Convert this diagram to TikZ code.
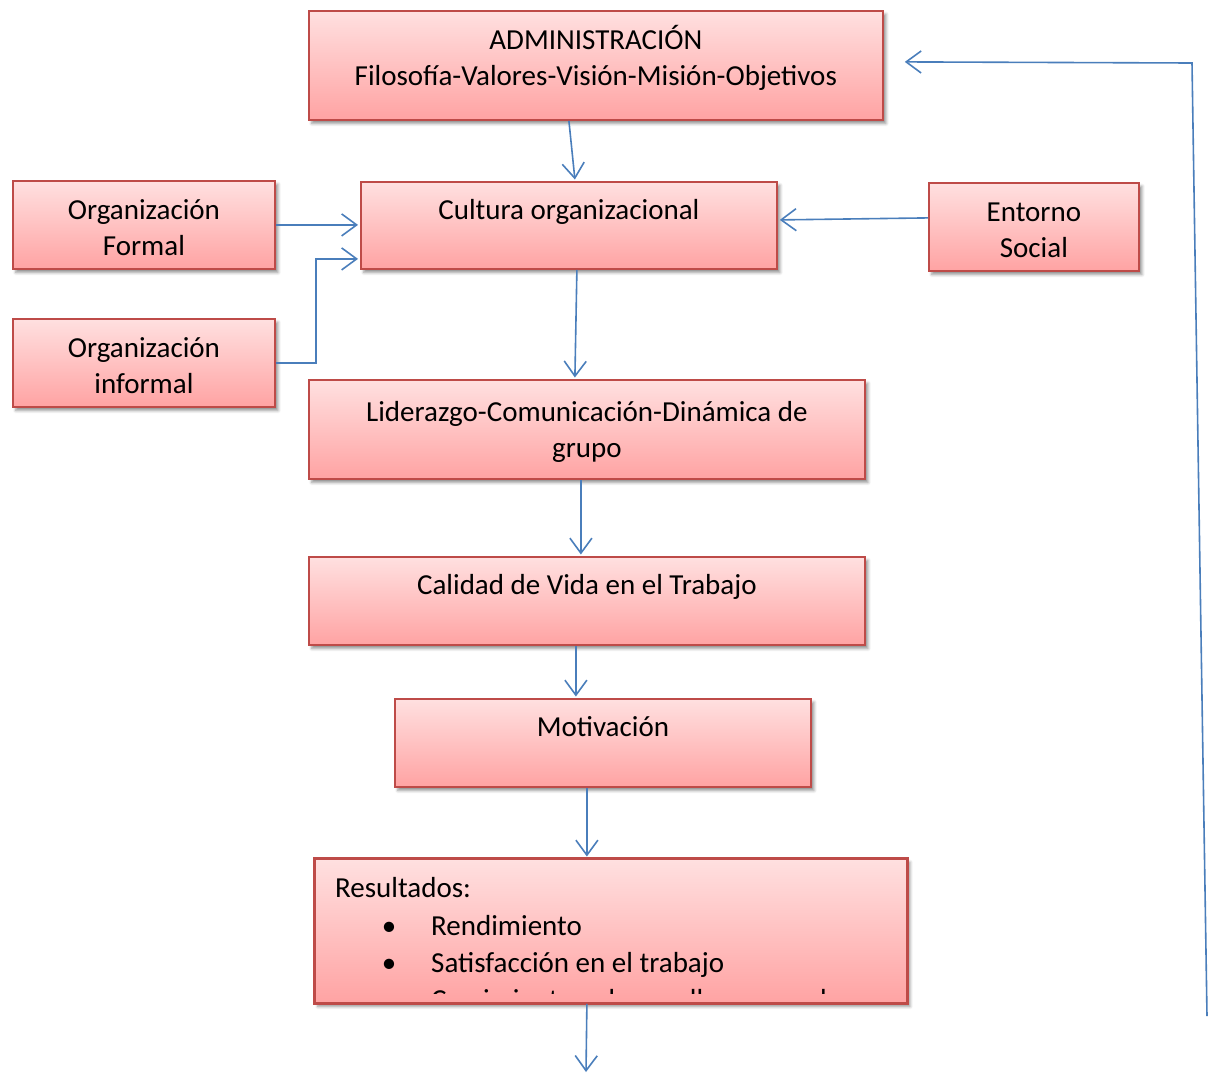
\documentclass[tikz,border=0pt]{standalone}
\usepackage{fontspec}
\setmainfont{Carlito}
\usetikzlibrary{arrows.meta,shadows.blur}
\definecolor{boxline}{HTML}{BE4B48}
\definecolor{boxtop}{HTML}{FFE0E0}
\definecolor{boxbot}{HTML}{FFA3A3}
\definecolor{flow}{HTML}{4A7EBB}
\begin{document}
\begin{tikzpicture}[x=1pt,y=-1pt,
  box/.style={draw=boxline, line width=1.8pt, top color=boxtop, bottom color=boxbot,
    inner sep=0pt, anchor=north west,
    blur shadow={shadow xshift=3pt, shadow yshift=-3.5pt, shadow blur radius=3pt, shadow opacity=45}},
  txt/.style={inner sep=0pt, align=center, anchor=base, font=\fontsize{29}{36}\selectfont},
  ltxt/.style={inner sep=0pt, anchor=base west, font=\fontsize{29}{36}\selectfont},
  flowline/.style={draw=flow, line width=1.6pt,
    -{Straight Barb[length=15pt,width=22pt,line width=1.6pt]}}]

\useasboundingbox (0,0) rectangle (1208,1074);

% boxes
\node[box, minimum width=574pt, minimum height=109pt] (adm) at (308,10) {};
\node[box, minimum width=416pt, minimum height=87pt] (cul) at (360,181) {};
\node[box, minimum width=262pt, minimum height=88pt] (for) at (12,180) {};
\node[box, minimum width=262pt, minimum height=88pt] (inf) at (12,318) {};
\node[box, minimum width=210pt, minimum height=88pt] (ent) at (928,182) {};
\node[box, minimum width=556pt, minimum height=99pt] (lid) at (308,379) {};
\node[box, minimum width=556pt, minimum height=88pt] (cal) at (308,556) {};
\node[box, minimum width=416pt, minimum height=88pt] (mot) at (394,698) {};
\node[box, minimum width=592pt, minimum height=144pt] (res) at (314,858) {};

% texts (the base anchor of a two-line text is its last baseline)
\node[txt] (admT) at ([yshift=-75pt]adm.north) {ADMINISTRACIÓN\\Filosofía-Valores-Visión-Misión-Objetivos};
\node[txt] (culT) at ([yshift=-38pt]cul.north) {Cultura organizacional};
\node[txt] (forT) at ([yshift=-75pt]for.north) {Organización\\Formal};
\node[txt] (infT) at ([yshift=-75pt]inf.north) {Organización\\informal};
\node[txt] (entT) at ([yshift=-75pt]ent.north) {Entorno\\Social};
\node[txt] (lidT) at ([yshift=-78pt]lid.north) {Liderazgo-Comunicación-Dinámica de\\grupo};
\node[txt] (calT) at ([yshift=-38pt]cal.north) {Calidad de Vida en el Trabajo};
\node[txt] (motT) at ([yshift=-38pt]mot.north) {Motivación};

% results list, cut off at the lower edge of its box
\begin{scope}
  \clip (316,860) rectangle (904,993);
  \node[ltxt] (resT) at (335,897) {Resultados:};
  \node[txt] (b1) at (389,935) {•};
  \node[txt] (b2) at (389,972) {•};
  \node[txt] (b3) at (389,1009) {•};
  \node[ltxt] (r1) at (431,935) {Rendimiento};
  \node[ltxt] (r2) at (431,972) {Satisfacción en el trabajo};
  \node[ltxt] (r3) at (431,1009) {Crecimiento y desarrollo personal};
\end{scope}
\draw[boxline, line width=1.8pt] (res.north west) rectangle (res.south east);

% connectors
\draw[flowline] ([xshift=-27pt]adm.south) -- ([xshift=6pt,yshift=1.5pt]cul.north);
\draw[flowline] (for.east) -- ([xshift=-2pt]cul.west |- for.east);
\draw[flowline] (inf.east) -- ++(40,0) |- ([xshift=-2pt,yshift=-33.5pt]cul.west);
\draw[flowline] ([yshift=9pt]ent.west) -- ([xshift=2pt,yshift=5.5pt]cul.east);
\draw[flowline] ([xshift=8pt]cul.south) -- ([xshift=-12pt,yshift=1.5pt]lid.north);
\draw[flowline] ([xshift=-6pt]lid.south) -- ([xshift=-6pt,yshift=1.5pt]cal.north);
\draw[flowline] ([xshift=-11pt]cal.south) -- ([xshift=-27pt,yshift=1.5pt]mot.north);
\draw[flowline] ([xshift=-16pt]mot.south) -- ([xshift=-24pt,yshift=1.5pt]res.north);
\coordinate (down) at (586,1072);
\draw[flowline] ([xshift=-24pt]res.south) -- (down);

% feedback loop back to the top
\coordinate (fb) at (1207,1016);
\coordinate (fbc) at (1192,63);
\draw[flowline] (fb) -- (fbc) -- ([xshift=21pt,yshift=3.5pt]adm.east);

\end{tikzpicture}
\end{document}
